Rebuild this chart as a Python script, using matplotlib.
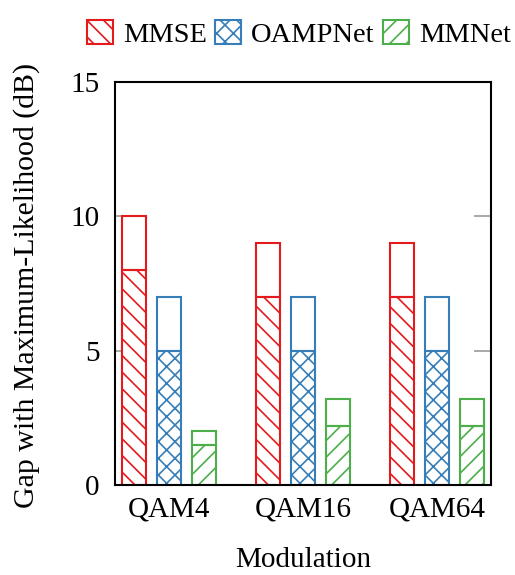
import matplotlib
matplotlib.use("Agg")
import matplotlib.pyplot as plt
import numpy as np
from matplotlib.patches import Patch

plt.rcParams['font.family'] = ['Liberation Serif', 'DejaVu Serif']
plt.rcParams['mathtext.fontset'] = 'stix'
plt.rcParams['hatch.linewidth'] = 1.2

categories = ["QAM4", "QAM16", "QAM64"]
methods = ["MMSE", "OAMPNet", "MMNet"]
# lower (hatched) part and total height
lower = {
    "MMSE": [8, 7, 7],
    "OAMPNet": [5, 5, 5],
    "MMNet": [1.5, 2.2, 2.2],
}
total = {
    "MMSE": [10, 9, 9],
    "OAMPNet": [7, 7, 7],
    "MMNet": [2, 3.2, 3.2],
}
colors = {"MMSE": "#e41a1c", "OAMPNet": "#377eb8", "MMNet": "#4daf4a"}
hatches = {"MMSE": "\\\\", "OAMPNet": "xx", "MMNet": "//"}
yticks = [0, 5, 10, 15]

fs = 21
fig = plt.figure(figsize=(5.15, 5.75), dpi=100)
ax = fig.add_axes([115/515, 90/575, 376/515, 403/575])

x = np.arange(len(categories))
width = 0.178
offset = 0.26
for i, m in enumerate(methods):
    pos = x + (i - 1) * offset
    low = np.array(lower[m])
    tot = np.array(total[m])
    ax.bar(pos, low, width, facecolor='white', edgecolor=colors[m],
           hatch=hatches[m], linewidth=1.5, zorder=2)
    ax.bar(pos, tot - low, width, bottom=low, facecolor='none',
           edgecolor=colors[m], linewidth=1.5, zorder=2)

ax.set_xlim(-0.4, 2.4)
ax.set_ylim(0, 15)
ax.set_xticks(x)
ax.set_xticklabels(categories)
ax.set_yticks(yticks)
ax.tick_params(axis='both', labelsize=fs, direction='in', length=12,
               color='#999999', width=1.2)
ax.tick_params(axis='y', right=True, left=True, pad=11)
ax.tick_params(axis='x', pad=8)
for s in ax.spines.values():
    s.set_linewidth(1.5)
    s.set_zorder(3)

fig.text(303/515, 1 - 567/575, "Modulation", fontsize=fs,
         ha='center', va='baseline')
fig.text(27/515, 1 - 285/575, "Gap with Maximum-Likelihood (dB)",
         fontsize=21.5, rotation=90, ha='center', va='center')

handles = [Patch(facecolor='white', edgecolor=colors[m], hatch=hatches[m],
                 linewidth=1.5) for m in methods]
fig.legend(handles, methods, loc='upper center', bbox_to_anchor=(299/515, 1.01),
           ncol=3, frameon=False, fontsize=20.5, handlelength=0.9,
           handleheight=0.9, handletextpad=0.35, columnspacing=0.3)

fig.savefig("out.png", dpi=100)
